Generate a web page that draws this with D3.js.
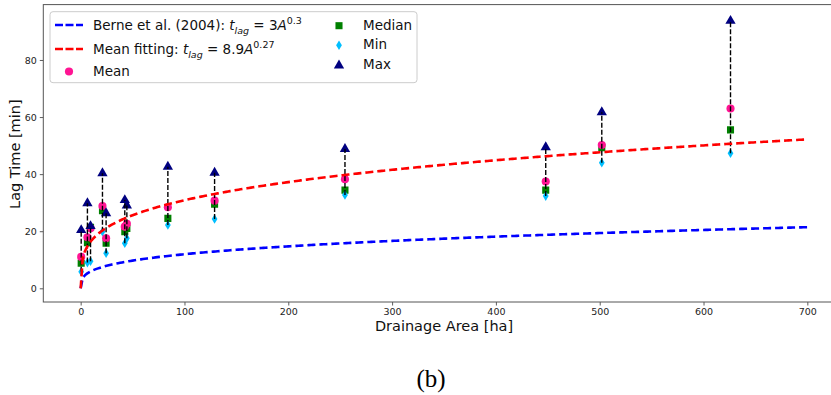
<!DOCTYPE html>
<html>
<head>
<meta charset="utf-8">
<script src="https://cdn.jsdelivr.net/npm/d3@7"></script>
<style>
  body { margin: 0; background: #fff; }
  svg { display: block; font-family: 'DejaVu Sans', sans-serif; }
</style>
</head>
<body>
<div id="chart"></div>
<script>
// drainage areas [ha] and lag-time statistics [min]
const areas   = [0.5, 6.5, 9.5, 21, 24.5, 42.5, 44.5, 84, 129, 254.6, 448, 502, 626]
const means   = [11.0, 17.9, 21.0, 28.8, 17.5, 21.6, 22.6, 28.4, 30.7, 38.2, 37.4, 50.2, 63.0]
const medians = [8.8, 16.0, 21.4, 27.2, 15.8, 19.8, 21.0, 24.5, 29.5, 34.4, 34.4, 49.3, 55.5]
const mins    = [5.8, 9.0, 9.5, 19.8, 12.3, 15.8, 17.5, 22.2, 24.3, 32.7, 32.3, 44.0, 47.3]
const maxs    = [20.4, 29.8, 21.8, 40.3, 26.3, 30.9, 29.0, 42.6, 40.5, 48.8, 49.4, 61.7, 93.7]

// power-law curves t = a * A^b as given in the legend
const berne = { a: 3, b: 0.3 }
const meanFit = { a: 8.9, b: 0.27 }
const curveAreas = d3.range(0, 700.01, 2)

const xTicks = [0, 100, 200, 300, 400, 500, 600, 700]
const yTicks = [0, 20, 40, 60, 80]

const colors = {
  berne: '#0000ff',
  fit: '#ff0000',
  mean: '#ff1493',
  median: '#008000',
  min: '#00bfff',
  max: '#000080',
}

const width = 831
const height = 395

const svg = d3.select('#chart').append('svg')
  .attr('width', width)
  .attr('height', height)

const x = d3.scaleLinear().domain([-36, 736]).range([43.3, 844.7])
const y = d3.scaleLinear().domain([-4.8, 99.4]).range([302, 4.6])

svg.append('defs').append('clipPath').attr('id', 'plot-clip')
  .append('rect')
  .attr('x', x.range()[0]).attr('y', y.range()[1])
  .attr('width', x.range()[1] - x.range()[0])
  .attr('height', y.range()[0] - y.range()[1])

// thin diamond, like matplotlib's 'd'
const thinDiamond = {
  draw(ctx, size) {
    const h = Math.sqrt(size) * 0.62
    const w = h * 0.6
    ctx.moveTo(0, -h)
    ctx.lineTo(w, 0)
    ctx.lineTo(0, h)
    ctx.lineTo(-w, 0)
    ctx.closePath()
  },
}

const symbols = {
  mean: d3.symbol(d3.symbolCircle, 52),
  median: d3.symbol(d3.symbolSquare, 50),
  min: d3.symbol(thinDiamond, 60),
  max: d3.symbol(d3.symbolTriangle, 46),
}

// axes
const xAxis = svg.append('g')
  .attr('transform', `translate(0,${y.range()[0]})`)
  .call(d3.axisBottom(x).tickValues(xTicks).tickSize(3.5).tickPadding(3))
const yAxis = svg.append('g')
  .attr('transform', `translate(${x.range()[0]},0)`)
  .call(d3.axisLeft(y).tickValues(yTicks).tickSize(3.5).tickPadding(3))

;[xAxis, yAxis].forEach(g => {
  g.select('.domain').remove()
  g.selectAll('.tick line').attr('stroke', '#333').attr('stroke-width', 0.8)
  g.selectAll('.tick text')
    .attr('fill', '#222')
    .attr('font-family', "'DejaVu Sans', sans-serif")
    .attr('font-size', '9.5px')
})

// frame
svg.append('rect')
  .attr('x', x.range()[0]).attr('y', y.range()[1])
  .attr('width', x.range()[1] - x.range()[0])
  .attr('height', y.range()[0] - y.range()[1])
  .attr('fill', 'none')
  .attr('stroke', '#555')
  .attr('stroke-width', 1)

const plot = svg.append('g').attr('clip-path', 'url(#plot-clip)')

const rows = areas.map((a, i) => ({
  area: a, mean: means[i], median: medians[i], min: mins[i], max: maxs[i],
}))

// markers
;['median', 'min', 'mean', 'max'].forEach(key => {
  plot.append('g').selectAll('path')
    .data(rows)
    .join('path')
    .attr('d', symbols[key])
    .attr('transform', d => `translate(${x(d.area)},${y(d[key])})`)
    .attr('fill', colors[key])
})

// min-max whiskers
plot.append('g').selectAll('line')
  .data(rows)
  .join('line')
  .attr('x1', d => x(d.area)).attr('x2', d => x(d.area))
  .attr('y1', d => y(d.min)).attr('y2', d => y(d.max))
  .attr('stroke', '#000')
  .attr('stroke-width', 1.4)
  .attr('stroke-dasharray', '5,2')

// fitted curves
const line = d3.line().x(d => x(d[0])).y(d => y(d[1]))
;[[berne, colors.berne], [meanFit, colors.fit]].forEach(([c, color]) => {
  plot.append('path')
    .attr('d', line(curveAreas.map(a => [a, c.a * Math.pow(a, c.b)])))
    .attr('fill', 'none')
    .attr('stroke', color)
    .attr('stroke-width', 2.6)
    .attr('stroke-dasharray', '8,4')
})

// axis labels
svg.append('text')
  .attr('x', x(350)).attr('y', 331)
  .attr('text-anchor', 'middle')
  .attr('font-size', '14.5px')
  .attr('fill', '#111')
  .text('Drainage Area [ha]')

svg.append('text')
  .attr('transform', `translate(20,${y(47)}) rotate(-90)`)
  .attr('text-anchor', 'middle')
  .attr('font-size', '14.5px')
  .attr('fill', '#111')
  .text('Lag Time [min]')

// legend
const legend = svg.append('g')
legend.append('rect')
  .attr('x', 50).attr('y', 11.7)
  .attr('width', 367).attr('height', 71)
  .attr('rx', 3)
  .attr('fill', 'rgba(255,255,255,0.8)')
  .attr('stroke', '#cccccc')
  .attr('stroke-width', 1)

const fs = 13.5

function mathLabel(g, xPos, yPos, prefix, coef, expo) {
  const t = g.append('text')
    .attr('x', xPos).attr('y', yPos)
    .attr('font-size', fs + 'px')
    .attr('fill', '#111')
  t.append('tspan').text(prefix + ' ')
  t.append('tspan').attr('font-style', 'italic').text('t')
  t.append('tspan').attr('font-style', 'italic').attr('font-size', '9.5px').attr('dy', 4).text('lag')
  t.append('tspan').attr('dy', -4).text(' = ' + coef)
  t.append('tspan').attr('font-style', 'italic').text('A')
  t.append('tspan').attr('font-size', '9.5px').attr('dy', -6).text(expo)
}

;[[colors.berne, 25], [colors.fit, 49]].forEach(([color, yy]) => {
  legend.append('line')
    .attr('x1', 55).attr('x2', 83)
    .attr('y1', yy).attr('y2', yy)
    .attr('stroke', color)
    .attr('stroke-width', 2.6)
    .attr('stroke-dasharray', '8,2.5')
})
mathLabel(legend, 93, 30, 'Berne et al. (2004):', berne.a, berne.b)
mathLabel(legend, 93, 53.5, 'Mean fitting:', meanFit.a, meanFit.b)

const legendMarkers = [
  ['mean', 'Mean', 69, 71.5, 93, 75.5],
  ['median', 'Median', 339, 25.7, 363, 30],
  ['min', 'Min', 339, 45.3, 363, 48.7],
  ['max', 'Max', 339, 65.5, 363, 68.5],
]
legendMarkers.forEach(([key, label, mx, my, tx, ty]) => {
  legend.append('path')
    .attr('d', symbols[key])
    .attr('transform', `translate(${mx},${my})`)
    .attr('fill', colors[key])
  legend.append('text')
    .attr('x', tx).attr('y', ty)
    .attr('font-size', fs + 'px')
    .attr('fill', '#111')
    .text(label)
})

// panel caption
svg.append('text')
  .attr('x', 431).attr('y', 387)
  .attr('text-anchor', 'middle')
  .attr('font-family', "'Liberation Serif', 'Times New Roman', serif")
  .attr('font-size', '25px')
  .attr('fill', '#000')
  .text('(b)')
</script>
</body>
</html>
